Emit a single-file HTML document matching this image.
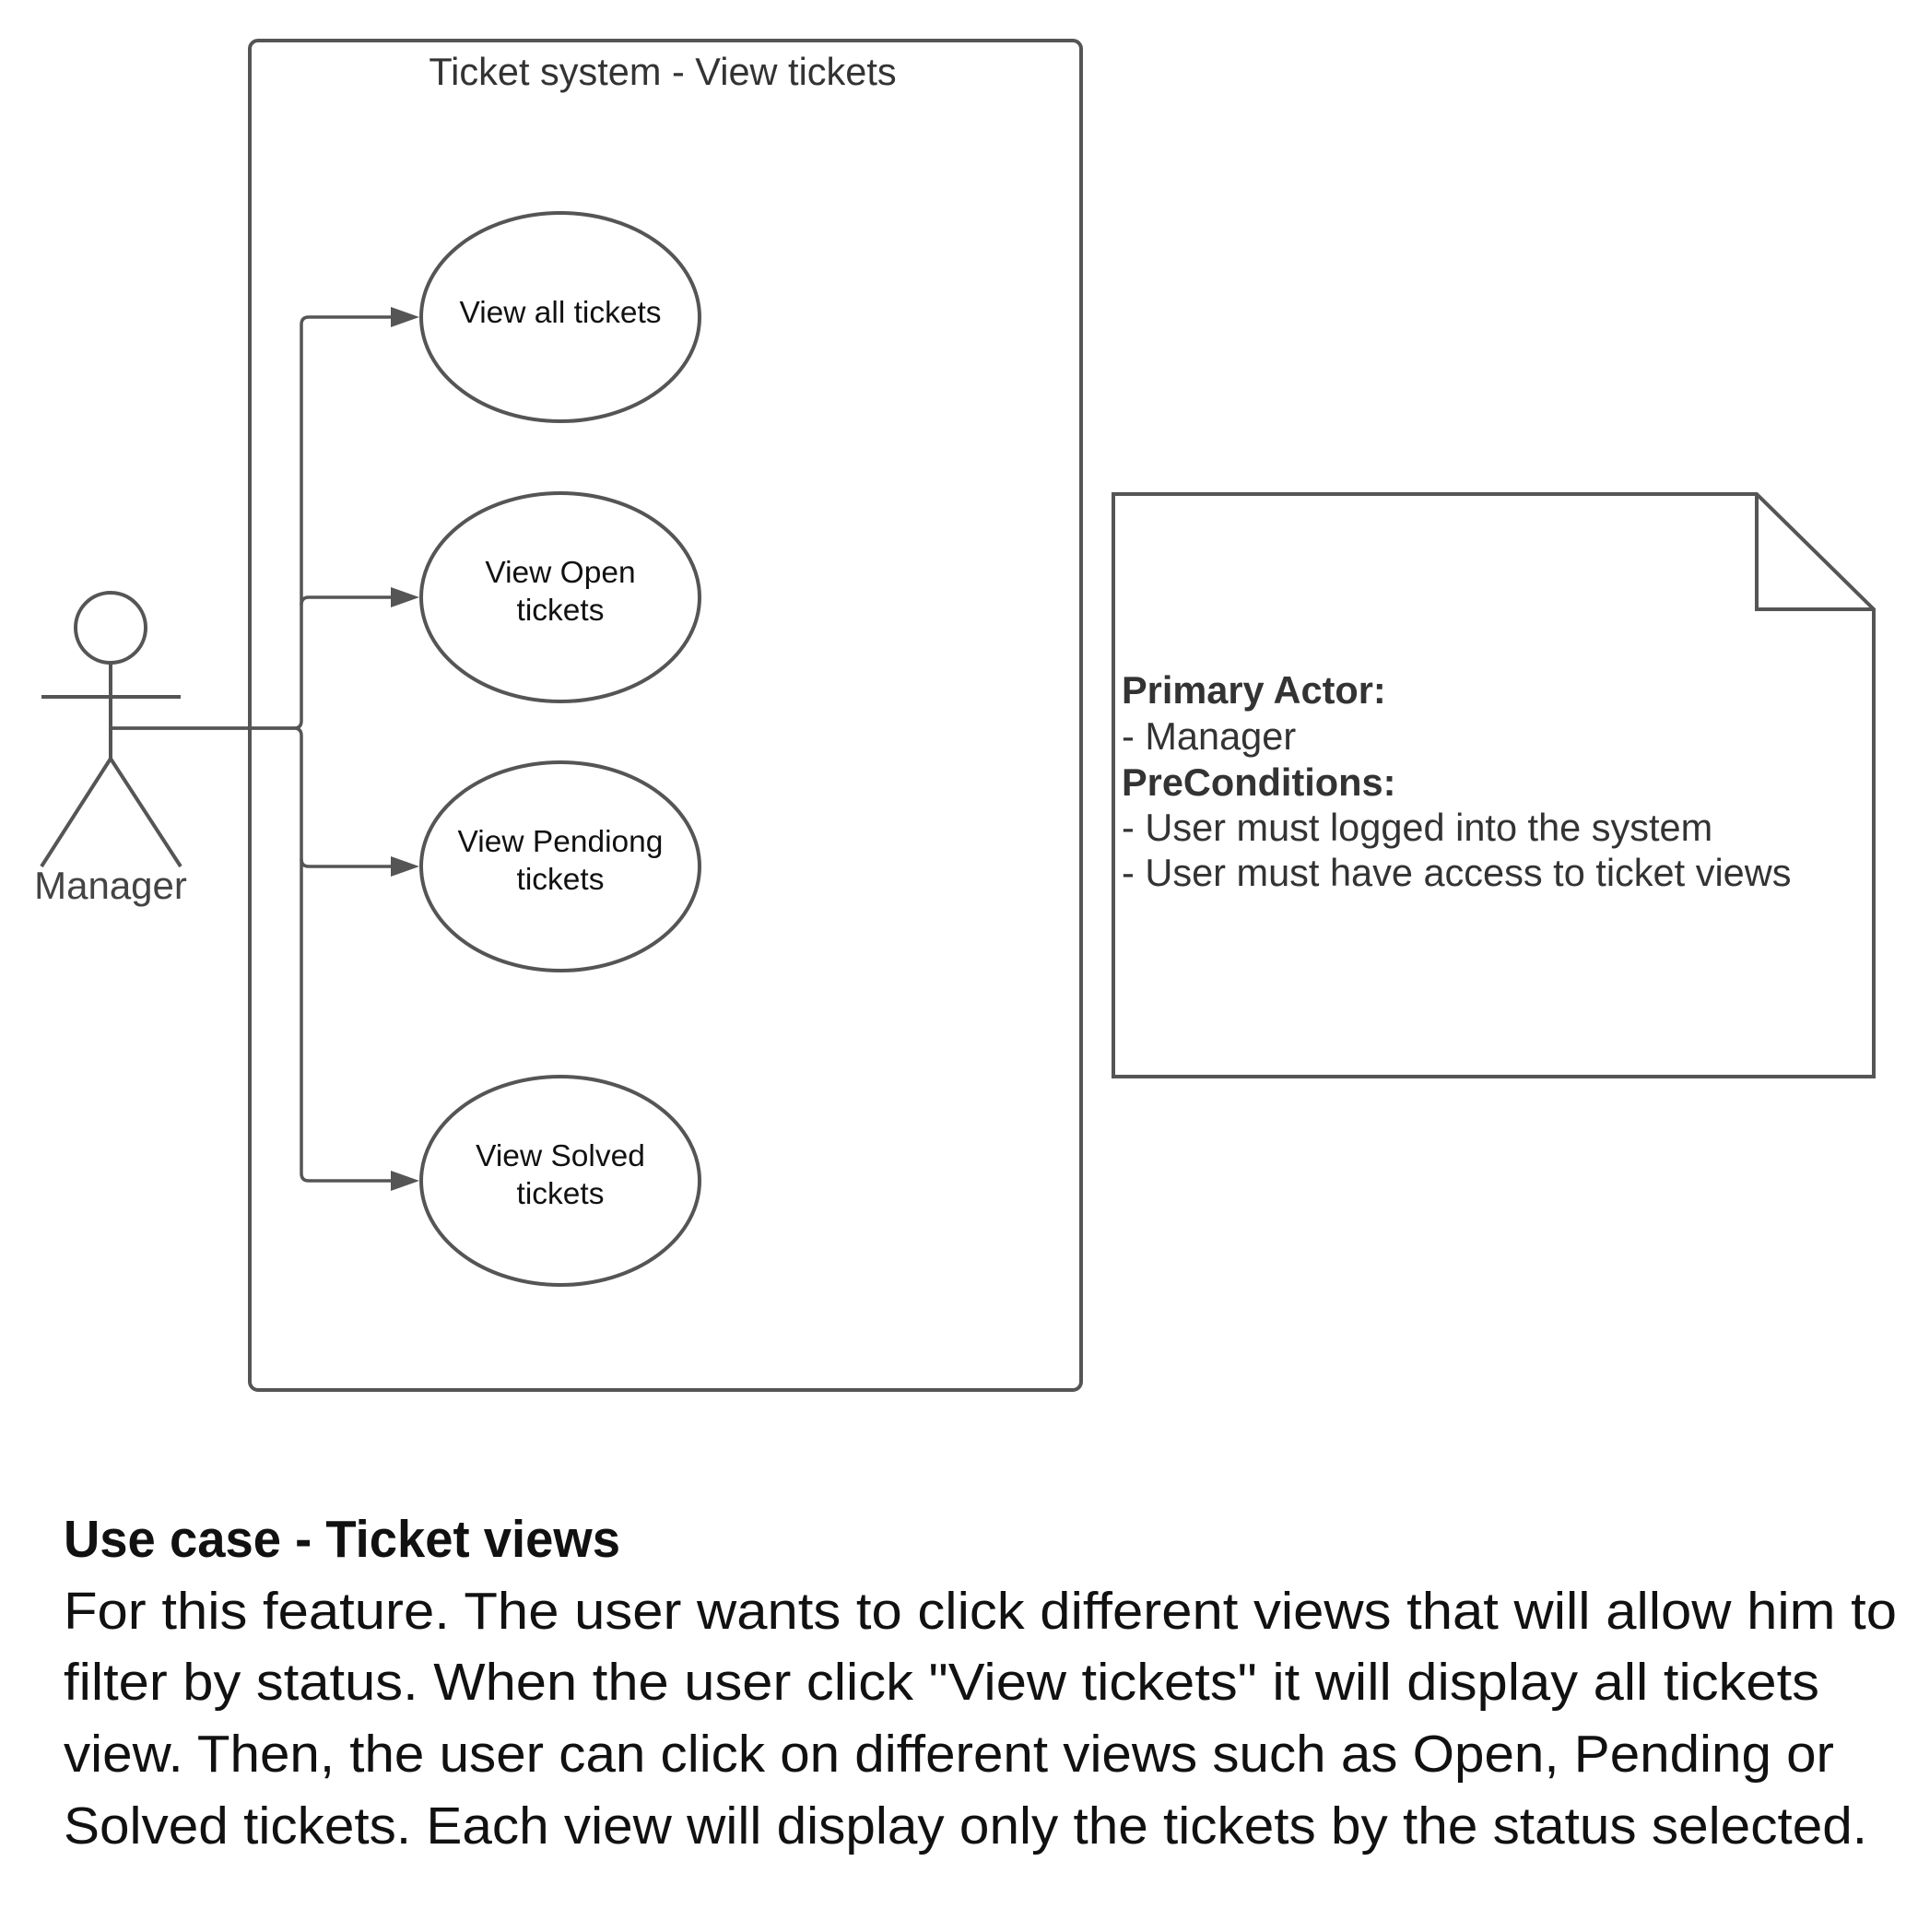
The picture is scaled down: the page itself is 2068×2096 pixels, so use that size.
<!DOCTYPE html>
<html><head><meta charset="utf-8"><style>html,body{margin:0;padding:0;background:#fff}svg{display:block}</style></head>
<body>
<svg width="2068" height="2096" viewBox="0 0 2068 2096" xmlns="http://www.w3.org/2000/svg" font-family="'Liberation Sans', sans-serif">
<rect x="271" y="44" width="902" height="1464" rx="9" fill="none" stroke="#555" stroke-width="4"/>
<text x="719" y="92" font-size="41.5" fill="#333" text-anchor="middle">Ticket system - View tickets</text>
<g fill="none" stroke="#555" stroke-width="3.5">
<path d="M120,790 H319 Q327,790 327,782 V352 Q327,344 335,344 H424"/>
<path d="M327,656 Q327,648 335,648 H424"/>
<path d="M120,790 H319 Q327,790 327,798 V1273 Q327,1281 335,1281 H424"/>
<path d="M327,932 Q327,940 335,940 H424"/>
</g>
<g fill="#555">
<path d="M424,333 L455,344 L424,355z"/><path d="M424,637 L455,648 L424,659z"/><path d="M424,929 L455,940 L424,951z"/><path d="M424,1270 L455,1281 L424,1292z"/>
</g>
<g fill="#fff" stroke="#555" stroke-width="4">
<ellipse cx="608" cy="344" rx="151" ry="113"/>
<ellipse cx="608" cy="648" rx="151" ry="113"/>
<ellipse cx="608" cy="940" rx="151" ry="113"/>
<ellipse cx="608" cy="1281" rx="151" ry="113"/>
</g>
<g font-size="33.5" fill="#111" text-anchor="middle">
<text x="608" y="350">View all tickets</text>
<text x="608" y="632">View Open</text><text x="608" y="673">tickets</text>
<text x="608" y="924">View Pendiong</text><text x="608" y="965">tickets</text>
<text x="608" y="1265">View Solved</text><text x="608" y="1306">tickets</text>
</g>
<g fill="none" stroke="#555" stroke-width="4">
<circle cx="120" cy="681" r="38"/>
<path d="M120,719 V823 M45,756 H196 M45,940 L120,823 L196,940"/>
</g>
<text x="120" y="975" font-size="42" fill="#444" text-anchor="middle">Manager</text>
<path d="M1208,536 H1906 L2033,661 V1168 H1208 Z" fill="#fff" stroke="#555" stroke-width="4"/>
<path d="M1906,536 V661 H2033" fill="none" stroke="#555" stroke-width="4"/>
<g font-size="41.5" fill="#333">
<text x="1217" y="763" font-weight="bold">Primary Actor:</text>
<text x="1217" y="813">- Manager</text>
<text x="1217" y="863" font-weight="bold">PreConditions:</text>
<text x="1217" y="912">- User must logged into the system</text>
<text x="1217" y="961">- User must have access to ticket views</text>
</g>
<g font-family="'Liberation Sans Narrow','Liberation Sans',sans-serif" fill="#111">
<text x="69" y="1689" font-size="57" font-weight="bold" textLength="604" lengthAdjust="spacingAndGlyphs">Use case - Ticket views</text>
<text x="69" y="1767" font-size="57" textLength="1989" lengthAdjust="spacingAndGlyphs">For this feature. The user wants to click different views that will allow him to</text>
<text x="69" y="1844" font-size="57" textLength="1905" lengthAdjust="spacingAndGlyphs">filter by status. When the user click "View tickets" it will display all tickets</text>
<text x="69" y="1922" font-size="57" textLength="1921" lengthAdjust="spacingAndGlyphs">view. Then, the user can click on different views such as Open, Pending or</text>
<text x="69" y="2000" font-size="57" textLength="1957" lengthAdjust="spacingAndGlyphs">Solved tickets. Each view will display only the tickets by the status selected.</text>
</g>
</svg>
</body></html>
